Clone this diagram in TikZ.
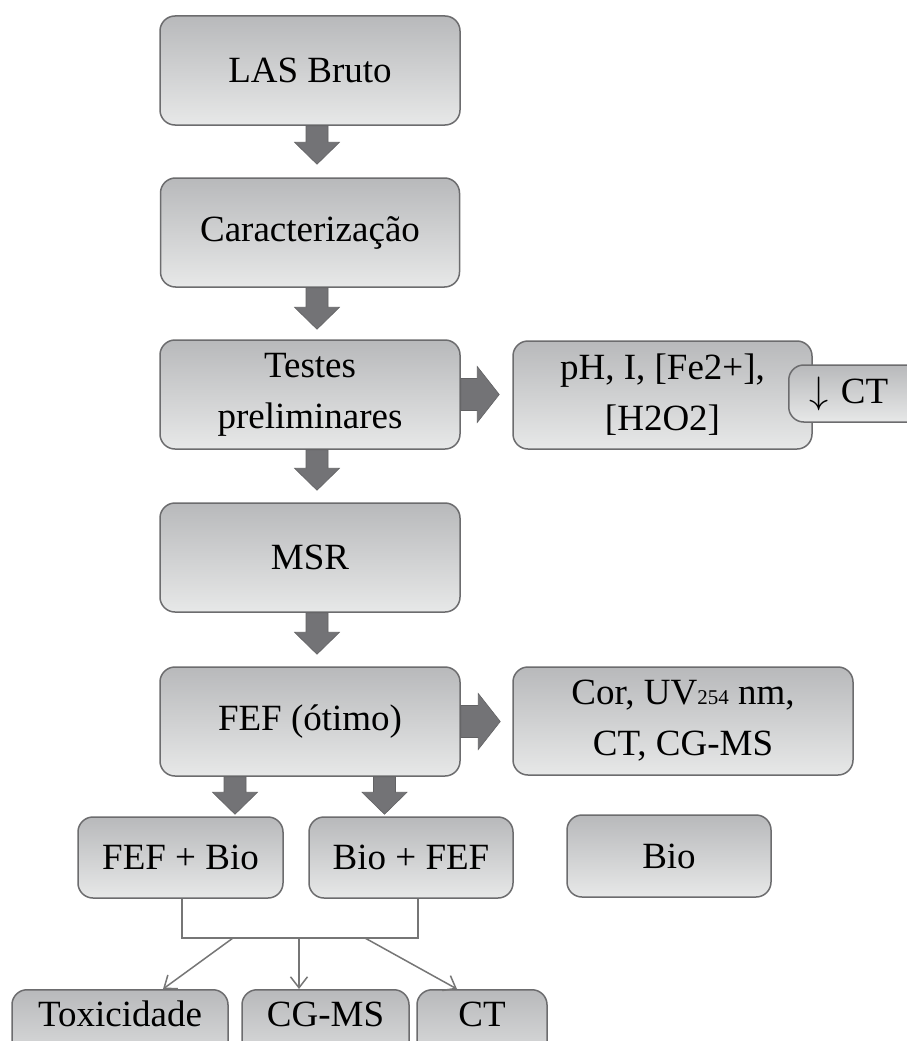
\documentclass[tikz,border=0pt]{standalone}
\usepackage{graphicx}
\usepackage{fontspec}
\setmainfont{Liberation Serif}
\usetikzlibrary{calc,arrows.meta}
\definecolor{topg}{RGB}{184,185,187}
\definecolor{botg}{RGB}{231,232,232}
\definecolor{bordc}{RGB}{108,108,110}
\definecolor{arrc}{RGB}{115,115,118}
\definecolor{linec}{RGB}{118,118,118}
\tikzset{
  boxst/.style={rounded corners=15pt, draw=bordc, line width=1.5pt,
    top color=topg, bottom color=botg, align=center, text=black,
    font=\fontsize{37}{51}\selectfont, inner sep=0pt},
  lowbox/.style={boxst, anchor=north, text height=26pt, text depth=45pt, inner ysep=11pt},
  blockarrow/.style={fill=arrc, draw=arrc!85!black, line width=0.6pt},
  conn/.style={draw=linec, line width=1.5pt},
  connarr/.style={conn, -{Straight Barb[length=11pt,width=17pt,line width=1.5pt]}}
}
% vertical block arrow: source, target, x centre (pt), gap (pt)
\newcommand\vblk[4]{%
  \path[blockarrow] let \p1=(#1.south), \p2=(#2.north) in
    ({#3pt-11pt},\y1) -- ({#3pt+11pt},\y1) -- ({#3pt+11pt},{\y2+#4pt+22pt})
    -- ({#3pt+22.5pt},{\y2+#4pt+22pt}) -- ({#3pt},{\y2+#4pt})
    -- ({#3pt-22.5pt},{\y2+#4pt+22pt}) -- ({#3pt-11pt},{\y2+#4pt+22pt}) -- cycle;}
% horizontal block arrow: source, target, gap (pt)
\newcommand\hblk[3]{%
  \path[blockarrow] let \p1=(#1.east), \p2=(#2.west) in
    (\x1,{\y1+16pt}) -- ({\x2-#3pt-22pt},{\y1+16pt}) -- ({\x2-#3pt-22pt},{\y1+28pt})
    -- ({\x2-#3pt},\y1) -- ({\x2-#3pt-22pt},{\y1-28pt}) -- ({\x2-#3pt-22pt},{\y1-16pt})
    -- (\x1,{\y1-16pt}) -- cycle;}
\begin{document}
\begin{tikzpicture}[x=1pt,y=-1pt]
\useasboundingbox (0,0) rectangle (906,1041);
\fill[white] (0,0) rectangle (906,1041);

\node[boxst, minimum width=300pt, minimum height=109pt] (las) at (310,70.5) {LAS Bruto};
\node[boxst, minimum width=299pt, minimum height=109pt] (car) at (310,232.5) {Caracterização};
\node[boxst, minimum width=300pt, minimum height=109pt] (tes) at (310,394.5) {Testes\\preliminares};
\node[boxst, minimum width=300pt, minimum height=109pt] (msr) at (310,557.5) {MSR};
\node[boxst, minimum width=300pt, minimum height=109pt] (fef) at (310,721.5) {FEF (ótimo)};

\node[boxst, minimum width=299pt, minimum height=108pt] (ph) at (662.5,395) {pH, I, [Fe2+],\\\relax [H2O2]};
\node[boxst, anchor=west, text width=115pt, align=left, inner xsep=21pt, minimum height=57pt] (ct) at (788,393.5) {\resizebox*{!}{34pt}{$\downarrow$}\hspace{12pt}CT};

\node[boxst, minimum width=340pt, minimum height=108pt] (cor) at (683,721)
  {Cor, UV{\fontsize{21}{21}\selectfont 254} nm,\\CT, CG-MS};

\node[boxst, minimum width=205pt, minimum height=81pt] (fb) at (180.5,857.5) {FEF + Bio};
\node[boxst, minimum width=204pt, minimum height=81pt] (bf) at (411,857.5) {Bio + FEF};
\node[boxst, minimum width=204pt, minimum height=82pt] (bio) at (669,856) {Bio};

\node[lowbox, minimum width=216pt] (tox) at (120,989) {Toxicidade};
\node[lowbox, minimum width=167pt] (cgms) at (325.5,989) {CG-MS};
\node[lowbox, minimum width=130pt] (ctb) at (482,989) {CT};

\vblk{las}{car}{317}{13}
\vblk{car}{tes}{317}{10}
\vblk{tes}{msr}{317}{12}
\vblk{msr}{fef}{317}{12}
\vblk{fef}{fb}{235}{2}
\vblk{fef}{bf}{384.5}{2}
\hblk{tes}{ph}{13}
\hblk{fef}{cor}{12}

\coordinate (jn) at (299,938);
\coordinate (j1) at (233,938);
\coordinate (j3) at (365,938);
\draw[conn] ([xshift=1.5pt]fb.south) |- (jn) -| ([xshift=7pt]bf.south);
\draw[connarr] (j1) -- ([xshift=43pt]tox.north);
\draw[connarr] (jn) -- ([xshift=-26.5pt]cgms.north);
\draw[connarr] (j3) -- ([xshift=-25pt]ctb.north);
\end{tikzpicture}
\end{document}
